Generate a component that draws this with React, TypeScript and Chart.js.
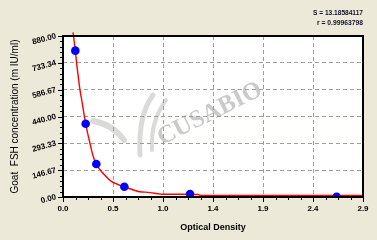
import React, { useEffect, useRef } from 'react';
import { Chart, registerables } from 'chart.js';

Chart.register(...registerables);

// Standard points (optical density vs concentration)
const odValues = [0.119, 0.219, 0.322, 0.593, 1.228, 2.645];
const concValues = [800, 400, 180, 56, 16, 1];

// Fitted curve
const curveOd = [0.097, 0.119, 0.132, 0.164, 0.184, 0.219, 0.26, 0.293, 0.322, 0.374, 0.471, 0.593, 0.712, 0.744, 0.84, 0.94, 1.0, 1.3, 1.33, 2.9];
const curveConc = [900, 800, 730, 585, 520, 400, 295, 220, 180, 138, 84, 56, 33, 29, 24, 16, 15, 14, 9, 9];

const xTickLabels = ['0.0', '0.5', '1.0', '1.4', '1.9', '2.4', '2.9'];
const yTickLabels = ['0.00', '146.67', '293.33', '440.00', '586.67', '733.34', '880.00'];
const xMax = 2.9;
const yMax = 880;
const xMinorPerMajor = 4;
const yMinorPerMajor = 5;

const statLines = ['S = 13.18584117', 'r = 0.99963798'];
const xTitle = 'Optical Density';
const yTitle = 'Goat  FSH concentration (m IU/ml)';
const watermark = 'CUSABIO';

const FONT = '"Liberation Sans", Arial, sans-serif';

const decorPlugin = {
  id: 'decor',
  beforeDraw(chart: any) {
    const { ctx, chartArea: a, width, height } = chart;
    ctx.save();
    ctx.fillStyle = '#ECE9D8';
    ctx.fillRect(0, 0, width, height);
    ctx.fillStyle = '#FFFFFF';
    ctx.fillRect(a.left, a.top, a.right - a.left, a.bottom - a.top);
    ctx.restore();
  },
  beforeDatasetsDraw(chart: any) {
    const { ctx } = chart;
    ctx.save();
    // logo swooshes
    ctx.strokeStyle = 'rgba(150,150,150,0.35)';
    ctx.lineCap = 'round';
    ctx.lineWidth = 6;
    ctx.beginPath();
    ctx.moveTo(93, 121);
    ctx.quadraticCurveTo(112, 124, 124, 140);
    ctx.stroke();
    ctx.lineWidth = 5;
    ctx.beginPath();
    ctx.moveTo(153, 95);
    ctx.quadraticCurveTo(138, 115, 140, 155);
    ctx.stroke();
    ctx.lineWidth = 4;
    ctx.beginPath();
    ctx.moveTo(166, 100);
    ctx.quadraticCurveTo(150, 122, 152, 150);
    ctx.stroke();
    // text
    ctx.translate(210, 114);
    ctx.rotate(-Math.atan2(55, 110));
    ctx.fillStyle = 'rgba(150,150,150,0.5)';
    ctx.font = 'bold 25px "Liberation Serif", serif';
    ctx.textAlign = 'center';
    ctx.textBaseline = 'middle';
    ctx.fillText(watermark, 0, 0);
    ctx.restore();
  },
  afterDraw(chart: any) {
    const { ctx, chartArea: a } = chart;
    const xs = chart.scales.x;
    const ys = chart.scales.y;
    ctx.save();
    ctx.strokeStyle = '#000';
    ctx.lineWidth = 1;
    const nx = xTickLabels.length - 1;
    const ny = yTickLabels.length - 1;
    for (let i = 0; i <= nx * xMinorPerMajor; i++) {
      const v = (xMax * i) / (nx * xMinorPerMajor);
      const px = Math.round(xs.getPixelForValue(v)) + 0.5;
      const len = i % xMinorPerMajor === 0 ? 5 : 3;
      ctx.beginPath();
      ctx.moveTo(px, a.bottom);
      ctx.lineTo(px, a.bottom + len);
      ctx.stroke();
    }
    for (let i = 0; i <= ny * yMinorPerMajor; i++) {
      const v = (yMax * i) / (ny * yMinorPerMajor);
      const py = Math.round(ys.getPixelForValue(v)) + 0.5;
      const len = i % yMinorPerMajor === 0 ? 5 : 3;
      ctx.beginPath();
      ctx.moveTo(a.left, py);
      ctx.lineTo(a.left - len, py);
      ctx.stroke();
    }
    ctx.lineWidth = 2;
    ctx.strokeRect(a.left, a.top, a.right - a.left, a.bottom - a.top);
    // stats
    ctx.fillStyle = '#10102a';
    ctx.font = 'bold 8px ' + FONT;
    ctx.textAlign = 'right';
    ctx.textBaseline = 'middle';
    ctx.fillText(statLines[0], a.right, 13, 50);
    ctx.fillText(statLines[1], a.right, 23, 46);
    ctx.restore();
  },
};

export default function App() {
  const ref = useRef<HTMLCanvasElement | null>(null);

  useEffect(() => {
    if (!ref.current) return;
    const nx = xTickLabels.length - 1;
    const ny = yTickLabels.length - 1;
    const chart = new Chart(ref.current, {
      type: 'scatter',
      data: {
        datasets: [
          {
            label: 'standards',
            data: odValues.map((x, i) => ({ x, y: concValues[i] })),
            backgroundColor: '#0000FF',
            borderColor: '#0000FF',
            pointRadius: 4.3,
            pointBorderWidth: 0,
            showLine: false,
          },
          {
            label: 'curve',
            data: curveOd.map((x, i) => ({ x, y: curveConc[i] })),
            borderColor: '#FF0000',
            borderWidth: 1.4,
            pointRadius: 0,
            showLine: true,
            tension: 0.3,
            clip: { left: 0, top: 5, right: 0, bottom: 0 },
          } as any,
        ],
      },
      options: {
        responsive: false,
        animation: false,
        events: [],
        layout: { padding: { top: 36, right: 14, left: 0, bottom: 0 } },
        plugins: { legend: { display: false }, tooltip: { enabled: false } },
        scales: {
          x: {
            type: 'linear',
            min: 0,
            max: xMax,
            afterBuildTicks: (s: any) => {
              s.ticks = Array.from({ length: nx * xMinorPerMajor + 1 }, (_, i) => ({
                value: (xMax * i) / (nx * xMinorPerMajor),
              }));
            },
            afterFit: (s: any) => {
              s.height = 43;
            },
            ticks: {
              autoSkip: false,
              maxRotation: 0,
              minRotation: 0,
              padding: 7,
              color: '#000',
              font: { family: FONT, size: 8, weight: 'bold' },
              callback: (_v: any, i: number) => (i % xMinorPerMajor === 0 ? xTickLabels[i / xMinorPerMajor] : ''),
            },
            grid: {
              drawTicks: false,
              color: (c: any) => (c.index % xMinorPerMajor === 0 ? '#A39F90' : 'rgba(0,0,0,0)'),
            },
            border: { display: false, dash: [4, 3] },
            title: {
              display: true,
              text: xTitle,
              color: '#000',
              font: { family: FONT, size: 9, weight: 'bold' },
              padding: { top: 0, bottom: 7 },
            },
          },
          y: {
            type: 'linear',
            min: 0,
            max: yMax,
            afterBuildTicks: (s: any) => {
              s.ticks = Array.from({ length: ny * yMinorPerMajor + 1 }, (_, i) => ({
                value: (yMax * i) / (ny * yMinorPerMajor),
              }));
            },
            afterFit: (s: any) => {
              s.width = 63;
            },
            ticks: {
              autoSkip: false,
              minRotation: 15,
              maxRotation: 15,
              padding: 7,
              color: '#000',
              font: { family: FONT, size: 8, weight: 'bold' },
              callback: (_v: any, i: number) => (i % yMinorPerMajor === 0 ? yTickLabels[i / yMinorPerMajor] : ''),
            },
            grid: {
              drawTicks: false,
              color: (c: any) => (c.index % yMinorPerMajor === 0 ? '#A39F90' : 'rgba(0,0,0,0)'),
            },
            border: { display: false, dash: [4, 3] },
            title: {
              display: true,
              text: yTitle,
              color: '#000',
              font: { family: FONT, size: 10 },
              padding: { top: 9, bottom: 0 },
            },
          },
        },
      } as any,
      plugins: [decorPlugin],
    });
    return () => chart.destroy();
  }, []);

  return (
    <div style={{ position: 'fixed', left: 0, top: 0, width: 377, height: 240, background: '#ECE9D8' }}>
      <canvas ref={ref} width={377} height={240} style={{ display: 'block', width: 377, height: 240 }} />
    </div>
  );
}
